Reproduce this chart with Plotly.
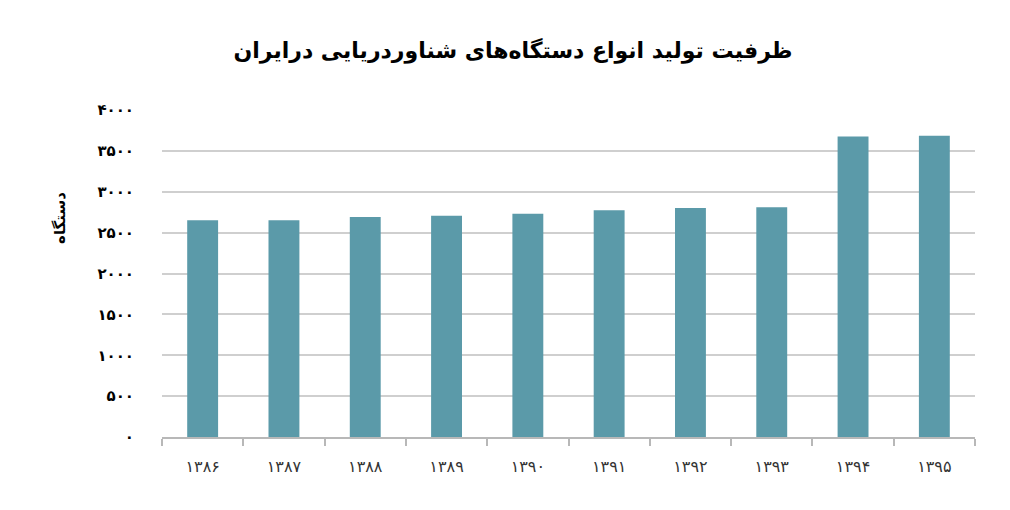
import plotly.graph_objects as go

years = ["۱۳۸۶", "۱۳۸۷", "۱۳۸۸", "۱۳۸۹", "۱۳۹۰", "۱۳۹۱", "۱۳۹۲", "۱۳۹۳", "۱۳۹۴", "۱۳۹۵"]
values = [2650, 2650, 2690, 2705, 2730, 2775, 2800, 2810, 3675, 3685]
y_tickvals = [0, 500, 1000, 1500, 2000, 2500, 3000, 3500, 4000]
y_ticktext = ["۰", "۵۰۰", "۱۰۰۰", "۱۵۰۰", "۲۰۰۰", "۲۵۰۰", "۳۰۰۰", "۳۵۰۰", "۴۰۰۰"]
title_text = "ظرفیت تولید انواع دستگاه‌های شناوردریایی درایران"
y_title = "دستگاه"

FONT = "DejaVu Sans"

fig = go.Figure(go.Bar(
    x=years, y=values,
    marker=dict(color="#5b9aa9", line=dict(width=0)),
))

fig.update_layout(
    width=1010, height=510,
    margin=dict(l=154, r=43, t=102, b=81),
    paper_bgcolor="white", plot_bgcolor="white",
    bargap=0.62,
    showlegend=False,
    title=dict(text="<b>" + title_text + "</b>", x=0.5, xanchor="center",
               y=0.918, yanchor="middle",
               font=dict(family=FONT, size=22, color="black")),
    font=dict(family=FONT, color="#222"),
    annotations=[dict(
        text="<b>" + y_title + "</b>", textangle=-90,
        xref="paper", yref="paper", x=0, y=0.67,
        xanchor="center", yanchor="middle", xshift=-102, showarrow=False,
        font=dict(family=FONT, size=15, color="black"),
    )],
)
fig.update_xaxes(
    type="category",
    showgrid=False,
    showline=True, linecolor="#b8b8b8", linewidth=1.5,
    ticks="outside", tickson="boundaries", ticklen=7, tickcolor="#b8b8b8", tickwidth=1.5,
    tickfont=dict(family=FONT, size=16, color="#333"),
    ticklabelstandoff=14,
)
fig.update_yaxes(
    range=[0, 4000],
    tickvals=y_tickvals, ticktext=y_ticktext,
    showgrid=True, gridcolor="#cfcfcf", gridwidth=1.5,
    zeroline=False, showline=False, ticks="",
    tickfont=dict(family=FONT, size=15, color="black", weight="bold"),
    ticklabelstandoff=27,
)

fig.write_html("out.html")
